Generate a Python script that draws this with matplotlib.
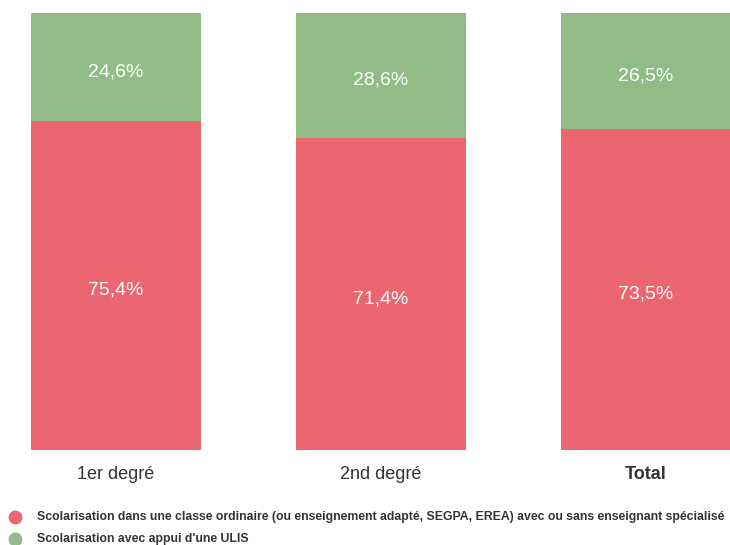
import matplotlib
matplotlib.use("Agg")
import matplotlib.pyplot as plt
from matplotlib.lines import Line2D

plt.rcParams['font.family'] = ['Liberation Sans', 'DejaVu Sans']

categories = ["1er degré", "2nd degré", "Total"]
ordinaire = [75.4, 71.4, 73.5]
ulis = [24.6, 28.6, 26.5]
series_names = [
    "Scolarisation dans une classe ordinaire (ou enseignement adapté, SEGPA, EREA) avec ou sans enseignant spécialisé",
    "Scolarisation avec appui d'une ULIS",
]

RED = "#EC6670"
GREEN = "#91BC85"
W, H = 730, 545

fig = plt.figure(figsize=(W / 100, H / 100), dpi=100)
ax = fig.add_axes([0, (H - 450) / H, 1, (450 - 13) / H])

x = list(range(len(categories)))
width = 170 / 265
ax.bar(x, ordinaire, width=width, color=RED, linewidth=0)
ax.bar(x, ulis, width=width, bottom=ordinaire, color=GREEN, linewidth=0)

def fmt(v):
    return f"{v:.1f}".replace(".", ",") + "%"

for i in x:
    ax.annotate(fmt(ordinaire[i]), (i, ordinaire[i] / 2), xytext=(0, -3.5),
                textcoords="offset points", ha="center", va="center",
                color="white", fontsize=14)
    ax.annotate(fmt(ulis[i]), (i, ordinaire[i] + ulis[i] / 2), xytext=(0, -3.5),
                textcoords="offset points", ha="center", va="center",
                color="white", fontsize=14)

ax.set_xlim((0 - 116) / 265, (730 - 116) / 265)
ax.set_ylim(0, 100)
ax.axis("off")

for i, c in enumerate(categories):
    ax.text(i, -5.6, c, ha="center", va="center", fontsize=13, color="#333333",
            fontweight="bold" if c == "Total" else "normal")

# legend
for j, (name, col) in enumerate(zip(series_names, [RED, GREEN])):
    yy = (H - (517 + 22 * j)) / H
    fig.add_artist(Line2D([15 / W], [yy], marker="o", markersize=9,
                          color=col, linestyle="none", transform=fig.transFigure))
    fig.text(37 / W, yy, name, ha="left", va="center", fontsize=8.85,
             fontweight="bold", color="#333333")

fig.savefig("out.png", dpi=100)
